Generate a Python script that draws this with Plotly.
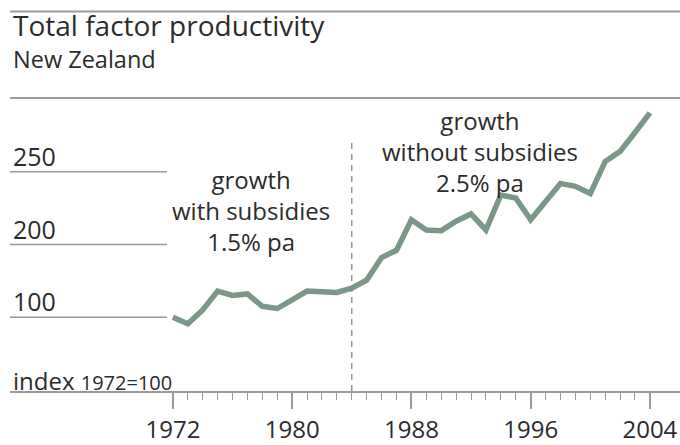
import plotly.graph_objects as go

# Total factor productivity, New Zealand (index 1972=100)
years = list(range(1972, 2005))
tfp = [100, 95.5, 105, 118, 115, 116, 107.5, 106, 112, 118,
       117.5, 117, 120, 125.5, 141, 146, 167, 160, 159.5, 166,
       171, 160, 184, 182, 167, 180, 192, 190, 185, 207,
       214, 227, 240.5]

tick_vals = [100, 150, 200]
tick_text = ["100", "200", "250"]
major_years = [1972, 1980, 1988, 1996, 2004]
policy_year = 1984

left_note = ["growth", "with subsidies", "1.5% pa"]
right_note = ["growth", "without subsidies", "2.5% pa"]

FONT = "Open Sans"
TEXT = "#2b2b2b"
RULE = "#9a9a9a"
LINE = "#7a9787"

W, H = 680, 445
M_L, M_R, M_T, M_B = 10, 0, 98, 49
x_range = [1961.07, 2006.02]
y_range = [49.3, 250.7]


def px_x(p):
    """Figure pixel column -> paper x."""
    return (p - M_L) / (W - M_L - M_R)


def px_y(p):
    """Figure pixel row -> paper y."""
    return (H - M_B - p) / (H - M_T - M_B)


fig = go.Figure()

fig.add_trace(go.Scatter(
    x=years, y=tfp, mode="lines",
    line=dict(color=LINE, width=5.5, shape="linear"),
    hoverinfo="skip", showlegend=False,
))

shapes = []
# short horizontal rules under each y label
for v in tick_vals:
    shapes.append(dict(type="line", xref="x", yref="y",
                       x0=x_range[0], x1=1971.6, y0=v, y1=v,
                       line=dict(color=RULE, width=1.5)))
# dashed marker at the end of subsidies
shapes.append(dict(type="line", xref="x", yref="y",
                   x0=policy_year, x1=policy_year, y0=y_range[0], y1=222,
                   line=dict(color="#8a8a8a", width=1.3, dash="6px,5px")))
# header rules
for yy in (px_y(10), 1.0):
    shapes.append(dict(type="line", xref="paper", yref="paper",
                       x0=0, x1=1, y0=yy, y1=yy,
                       line=dict(color=RULE, width=1.8)))

annotations = [
    dict(text="Total factor productivity", xref="paper", yref="paper",
         x=px_x(11), y=px_y(24), xanchor="left", yanchor="middle",
         showarrow=False, font=dict(family=FONT, size=28, color=TEXT)),
    dict(text="New Zealand", xref="paper", yref="paper",
         x=px_x(11), y=px_y(58), xanchor="left", yanchor="middle",
         showarrow=False, font=dict(family=FONT, size=23.5, color=TEXT)),
    dict(text="index <span style='font-size:20px'>1972=100</span>",
         xref="paper", yref="paper", x=px_x(11), y=px_y(385),
         xanchor="left", yanchor="middle", showarrow=False,
         font=dict(family=FONT, size=24, color=TEXT)),
]

# three-line notes on either side of the policy change
for lines, cx, cy in ((left_note, 251, 212), (right_note, 480, 152)):
    annotations.append(dict(
        text="<br>".join(lines), xref="paper", yref="paper",
        x=px_x(cx), y=px_y(cy), xanchor="center", yanchor="middle",
        align="center", showarrow=False,
        font=dict(family=FONT, size=24, color=TEXT)))

fig.update_layout(
    width=W, height=H,
    margin=dict(l=M_L, r=M_R, t=M_T, b=M_B, pad=0),
    paper_bgcolor="white", plot_bgcolor="white",
    shapes=shapes, annotations=annotations,
    xaxis=dict(
        range=x_range, showgrid=False, zeroline=False,
        showline=True, linecolor=RULE, linewidth=1.8,
        tickmode="array", tickvals=major_years,
        ticks="outside", ticklen=16, tickwidth=1.5, tickcolor=RULE,
        minor=dict(tickmode="array", tickvals=years, ticks="outside",
                   ticklen=7, tickwidth=1.3, tickcolor=RULE),
        tickfont=dict(family=FONT, size=24, color=TEXT),
    ),
    yaxis=dict(
        range=y_range, showgrid=False, zeroline=False, showline=False,
        tickmode="array", tickvals=tick_vals, ticktext=tick_text,
        ticks="", ticklabelposition="inside top", ticklabelshift=3,
        tickfont=dict(family=FONT, size=25, color=TEXT),
    ),
)

fig.write_html("out.html")
